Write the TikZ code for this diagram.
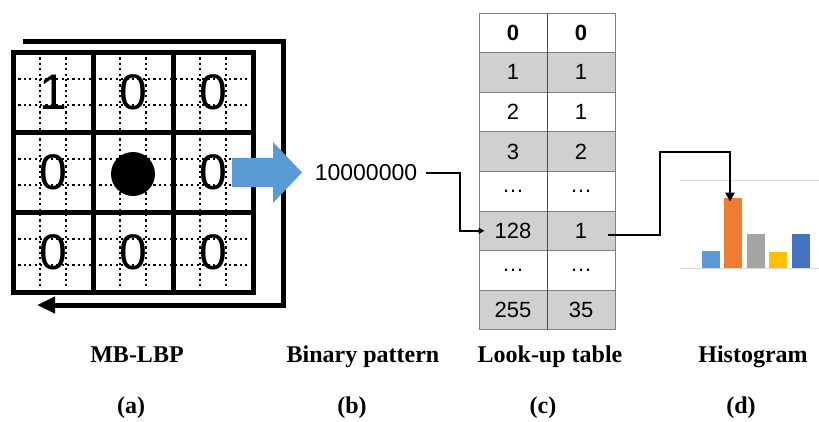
\documentclass[tikz,border=0pt]{standalone}
\usepackage{fontspec}
\setmainfont{Liberation Serif}
\newfontfamily\sansf{Liberation Sans}
\usetikzlibrary{arrows.meta,calc}
\definecolor{tblgray}{HTML}{D0D0D0}
\definecolor{tblline}{HTML}{7F7F7F}
\definecolor{arrowblue}{HTML}{5B9BD5}
\definecolor{barorange}{HTML}{ED7D31}
\definecolor{bargray}{HTML}{A5A5A5}
\definecolor{baryellow}{HTML}{FFC000}
\definecolor{bardarkblue}{HTML}{4472C4}
\definecolor{hgrid}{HTML}{D9D9D9}
\tikzset{
  dotline/.style={line width=2.2pt, dash pattern=on 2.2pt off 3.2pt, black},
  thickline/.style={line width=5pt, black},
  bigdigit/.style={font=\sansf\fontsize{50}{50}\selectfont, inner sep=0pt},
  cellbox/.style={draw=tblline, line width=1pt, minimum width=68pt, minimum height=39.6pt, inner sep=0pt, font=\sansf\fontsize{22}{22}\selectfont},
  conn/.style={line width=2.2pt, black},
  histbar/.style={minimum width=18pt, inner sep=0pt, anchor=south},
  caption/.style={font=\fontsize{24}{24}\selectfont\bfseries, anchor=base, inner sep=0pt},
}
\begin{document}
\begin{tikzpicture}[x=1pt,y=-1pt]
\useasboundingbox (0,0) rectangle (819,421);
\fill[white] (0,0) rectangle (819,421);

% (a) MB-LBP grid
\foreach \k in {1,2,4,5,7,8} {
  \draw[dotline] ({13+80*\k/3},52) -- ({13+80*\k/3},292);
  \draw[dotline] (13,{52+80*\k/3}) -- (253,{52+80*\k/3});
}
\draw[thickline] (13,52) rectangle (253,292);
\draw[thickline] (93,52) -- (93,292) (173,52) -- (173,292);
\draw[thickline] (13,132) -- (253,132) (13,212) -- (253,212);

\node[bigdigit] (g11) at (53,92) {1};
\node[bigdigit] (g12) at (133,92) {0};
\node[bigdigit] (g13) at (213,92) {0};
\node[bigdigit] (g21) at (53,172) {0};
\node[circle, fill=black, minimum size=44pt, inner sep=0pt] (dot) at (133,174) {};
\node[bigdigit] (g23) at (213,172) {0};
\node[bigdigit] (g31) at (53,252) {0};
\node[bigdigit] (g32) at (133,252) {0};
\node[bigdigit] (g33) at (213,252) {0};

% loop arrow
\draw[thickline, line join=miter, -{Triangle[length=18pt,width=16pt]}]
  (23,41) -- (283,41) -- (283,305) -- (37,305);

% blue block arrow
\fill[arrowblue] (232,158) -- (273,158) -- (273,142) -- (302,172.5)
  -- (273,203) -- (273,187) -- (232,187) -- cycle;

% (b) binary pattern
\node[font=\sansf\fontsize{23}{23}\selectfont, inner sep=9pt] (bin) at (366,173) {10000000};

% (c) look-up table
\foreach \a/\b [count=\i] in {{\textbf{0}}/{\textbf{0}},1/1,2/1,3/2,{\dots}/{\dots},128/1,{\dots}/{\dots},255/35} {
  \ifodd\i \def\fc{white}\else\def\fc{tblgray}\fi
  \node[cellbox, fill=\fc] (c\i1) at (513,{13+39.6*(\i-0.5)}) {\a};
  \node[cellbox, fill=\fc] (c\i2) at (581,{13+39.6*(\i-0.5)}) {\b};
}
\draw[black!70, line width=1pt] (c11.north east) -- (c81.south east);

% (d) histogram
\draw[hgrid, line width=1pt] (680,180) -- (819,180);
\draw[hgrid, line width=1pt] (680,268) -- (819,268);
\node[histbar, fill=arrowblue, minimum height=17pt] (bar1) at (711,268) {};
\node[histbar, fill=barorange, minimum height=70pt] (bar2) at (733,268) {};
\node[histbar, fill=bargray, minimum height=34pt] (bar3) at (756,268) {};
\node[histbar, fill=baryellow, minimum height=16pt] (bar4) at (778,268) {};
\node[histbar, fill=bardarkblue, minimum height=34pt] (bar5) at (801,268) {};

% connectors
\coordinate (in128) at ($(c61.west)+(6,0)$);
\coordinate (turn1) at (460,200);
\draw[conn, -{Triangle[length=6pt,width=6pt]}] (bin.east) -| (turn1) |- (in128);

\coordinate (out1) at ($(c62.east)+(-8,4)$);
\coordinate (turn2) at (660,152);
\coordinate (bartop) at ($(bar2.north)+(-3,4)$);
\draw[conn, -{Triangle[length=9pt,width=9pt]}] (out1) -| (turn2) -| (bartop);

% captions
\node[caption] (capa) at (137,362) {MB-LBP};
\node[caption] (capb) at (363,362) {Binary pattern};
\node[caption] (capc) at (550,362) {Look-up table};
\node[caption] (capd) at (753,362) {Histogram};
\node[caption] (la) at (131,413) {(a)};
\node[caption] (lb) at (352,413) {(b)};
\node[caption] (lc) at (543,413) {(c)};
\node[caption] (ld) at (741,413) {(d)};
\end{tikzpicture}
\end{document}
